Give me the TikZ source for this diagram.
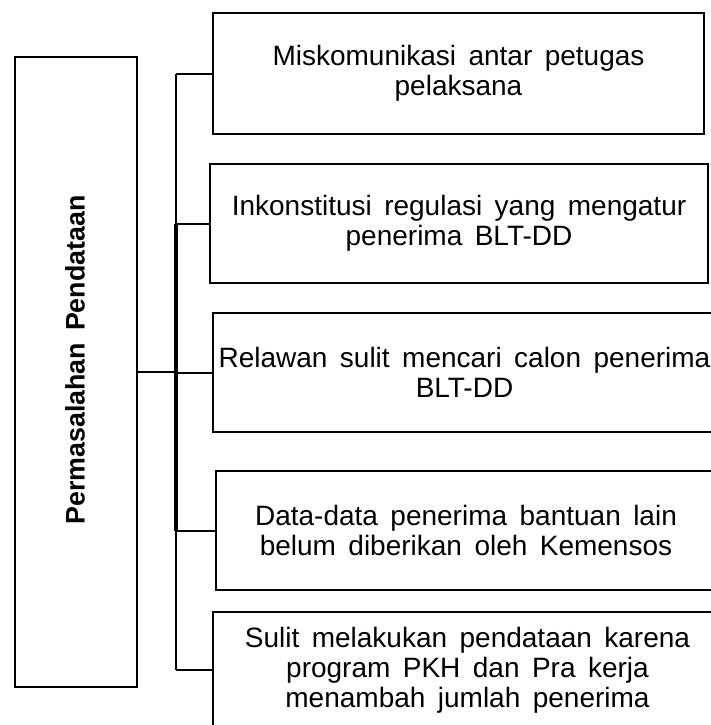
\documentclass[tikz,border=0pt]{standalone}
\usepackage{fontspec}
\setmainfont{Liberation Sans}[WordSpace=1.6]
\begin{document}
\begin{tikzpicture}[x=1pt,y=-1pt,
  box/.style={draw=black, line width=2pt, inner sep=0pt, align=center,
    font=\fontsize{28}{30}\selectfont},
  lboxstyle/.style={draw=black, line width=2pt, inner sep=0pt,
    minimum width=122pt, minimum height=630pt},
  conn/.style={draw=black, line width=2pt},
  trunkthick/.style={draw=black, line width=3.2pt}]
\clip (0,0) rectangle (711,725);
\node[box, minimum width=491pt, minimum height=121pt] (b1) at (458.5,73.5)
  {Miskomunikasi antar petugas\\pelaksana};
\node[box, minimum width=498pt, minimum height=119pt] (b2) at (459,223.5)
  {Inkonstitusi regulasi yang mengatur\\penerima BLT-DD};
\node[box, minimum width=503pt, minimum height=119pt] (b3) at (464.5,372.5)
  {Relawan sulit mencari calon penerima\\BLT-DD};
\node[box, minimum width=500pt, minimum height=119pt] (b4) at (466,530.5)
  {Data-data penerima bantuan lain\\belum diberikan oleh Kemensos};
\node[box, minimum width=509pt, minimum height=116pt] (b5) at (467.5,670)
  {Sulit melakukan pendataan karena\\program PKH dan Pra kerja\\menambah jumlah penerima};
\node[lboxstyle] (lb) at (76,372) {};
\node[rotate=90, inner sep=0pt, font=\fontsize{26.8}{30}\selectfont\bfseries] (lt) at (75,360)
  {Permasalahan Pendataan};
\coordinate (ttop) at (176,73.5);
\coordinate (tbot) at (176,670);
\coordinate (j2) at (176,223.5);
\coordinate (j4) at (176,530.5);
\draw[conn] (ttop) -- (tbot);
\draw[trunkthick] (j2) -- (j4);
\foreach \b in {b1,b2,b3,b4,b5}{
  \draw[conn] (\b.west -| ttop) -- (\b.west);
}
\draw[conn, line width=2.5pt] (lb.east) -- (lb.east -| ttop);
\end{tikzpicture}
\end{document}
